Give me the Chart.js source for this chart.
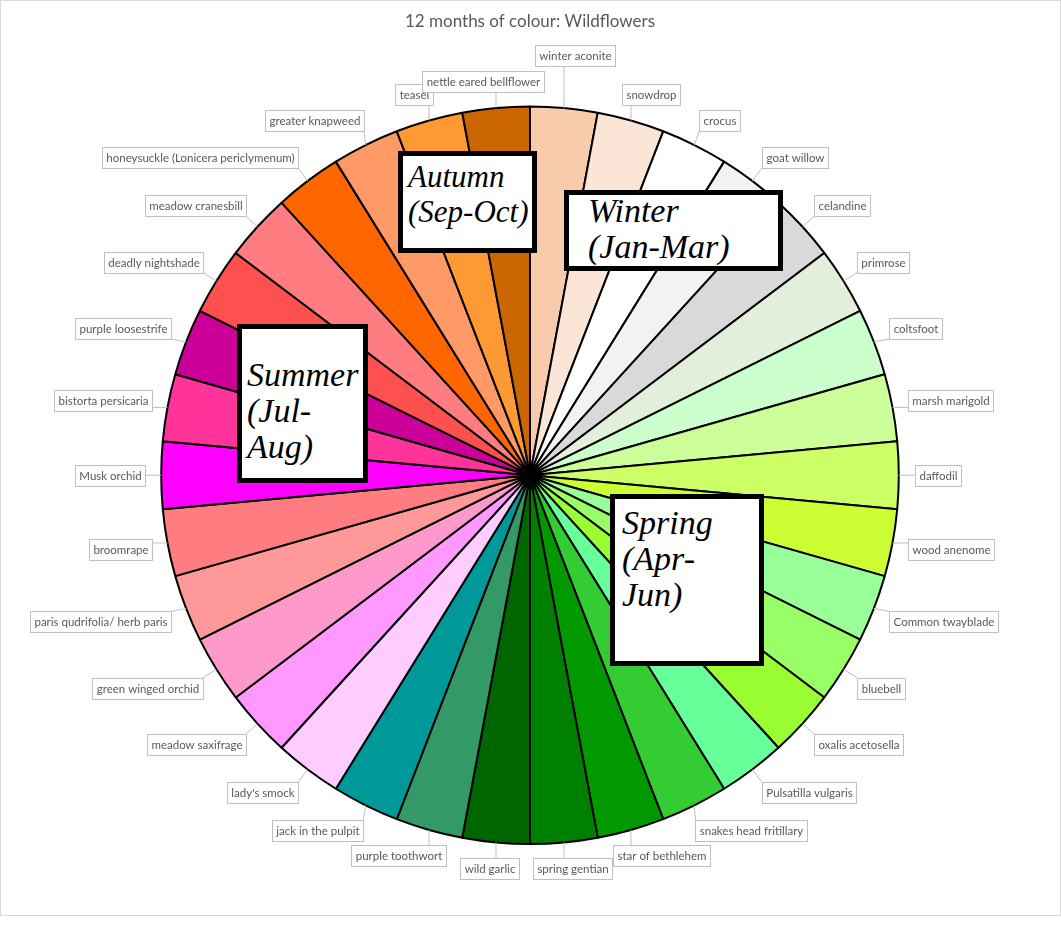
<!DOCTYPE html>
<html>
<head>
<meta charset="utf-8">
<script src="https://cdn.jsdelivr.net/npm/chart.js@4.4.1/dist/chart.umd.min.js"></script>
<style>
  body { margin: 0; background: #fff; }
  #wrap { position: relative; width: 1061px; height: 936px; }
  #frame { position: absolute; left: 0; top: 0; width: 1059px; height: 914px; border: 1px solid #d9d9d9; }
  canvas { position: absolute; left: 0; top: 0; }
  .season {
    position: absolute; box-sizing: border-box; background: #fff; border: 5px solid #000;
    font-family: "Liberation Serif", serif; font-style: italic; font-size: 34px; line-height: 36px; color: #000;
  }
  .season div { position: absolute; white-space: pre; }
  #autumn { left: 398px; top: 151px; width: 139px; height: 102px; font-size: 31px; line-height: 35px; }
  #autumn div { left: 5px; top: 3px; }
  #winter { left: 564px; top: 190px; width: 219px; height: 81px; }
  #winter div { left: 19px; top: -2px; }
  #summer { left: 237px; top: 324px; width: 131px; height: 159px; }
  #summer div { left: 5px; top: 28px; }
  #spring { left: 610px; top: 494px; width: 154px; height: 172px; }
  #spring div { left: 7px; top: 6px; }
</style>
</head>
<body>
<div id="wrap">
  <div id="frame"></div>
  <canvas id="chart" width="1061" height="936"></canvas>
</div>
<script>
// one slice per wildflower, clockwise from the top (January)
const flowers = [
  "winter aconite", "snowdrop", "crocus", "goat willow", "celandine", "primrose",
  "coltsfoot", "marsh marigold", "daffodil", "wood anenome", "Common twayblade", "bluebell",
  "oxalis acetosella", "Pulsatilla vulgaris", "snakes head fritillary", "star of bethlehem",
  "spring gentian", "wild garlic", "purple toothwort", "jack in the pulpit", "lady's smock",
  "meadow saxifrage", "green winged orchid", "paris qudrifolia/ herb paris", "broomrape",
  "Musk orchid", "bistorta persicaria", "purple loosestrife", "deadly nightshade",
  "meadow cranesbill", "honeysuckle (Lonicera periclymenum)", "greater knapweed", "teasel",
  "nettle eared bellflower"
];
const shares = [1, 1, 1, 1, 1, 1, 1, 1, 1, 1, 1, 1, 1, 1, 1, 1, 1,
                1, 1, 1, 1, 1, 1, 1, 1, 1, 1, 1, 1, 1, 1, 1, 1, 1];
const colours = [
  "#f8cbad", "#fbe5d6", "#ffffff", "#f2f2f2", "#d9d9d9", "#e2efda",
  "#ccffcc", "#ccff99", "#ccff66", "#ccff33", "#99ff99", "#99ff66",
  "#99ff33", "#66ff99", "#33cc33", "#009900", "#008000", "#006600",
  "#339966", "#009999", "#ffccff", "#ff99ff", "#ff99cc", "#ff9999",
  "#ff7c80", "#ff00ff", "#ff3399", "#cc0099", "#ff5050", "#ff7c80",
  "#ff6600", "#ff9966", "#ff9933", "#cc6600"
];
const seasonIds = ["autumn", "winter", "summer", "spring"];
const seasonText = ["Autumn\n(Sep-Oct)", "Winter\n(Jan-Mar)", "Summer\n(Jul-\nAug)", "Spring\n(Apr-\nJun)"];

// Excel-style data callouts with leader lines
const callouts = {
  id: "callouts",
  afterDraw(chart) {
    const ctx = chart.ctx;
    const arcs = chart.getDatasetMeta(0).data;
    const clamp = v => Math.max(-1, Math.min(1, v));
    const overlap = (b, p) => [
      Math.min(b.x + b.w, p.x + p.w) - Math.max(b.x, p.x),
      Math.min(b.y + b.h, p.y + p.h) - Math.max(b.y, p.y)
    ];
    ctx.save();
    ctx.font = "11.5px Lato";
    const placed = [];
    const boxes = [];
    arcs.map((a, i) => i).reverse().forEach(i => {
      const a = arcs[i];
      const mid = (a.startAngle + a.endAngle) / 2;
      const dx = Math.cos(mid), dy = Math.sin(mid);
      const w = Math.round(ctx.measureText(flowers[i]).width + 8);
      const h = 21;
      let r = a.outerRadius + 16;
      const at = rr => {
        const cx = a.x + dx * rr + clamp(dx * 2) * w / 2;
        const cy = a.y + dy * rr + clamp(dy * 2) * h / 2;
        return { x: cx - w / 2, y: cy - h / 2, w, h };
      };
      let box = at(r);
      // small corner overlaps are tolerated, real clashes are pushed fully clear
      const clash = placed.some(p => {
        const [ox, oy] = overlap(box, p);
        return ox > -2 && oy > -2 && !(ox < 18 && oy < 11);
      });
      if (clash) {
        for (let k = 0; k < 80; k++) {
          r += 2;
          box = at(r);
          if (!placed.some(p => { const [ox, oy] = overlap(box, p); return ox > -3 && oy > -3; })) break;
        }
      }
      placed.push(box);
      boxes[i] = { box, mid, a };
    });
    boxes.forEach(({ box, mid, a }, i) => {
      const rx = a.x + Math.cos(mid) * a.outerRadius;
      const ry = a.y + Math.sin(mid) * a.outerRadius;
      const px = Math.min(Math.max(rx, box.x), box.x + box.w);
      const py = Math.min(Math.max(ry, box.y), box.y + box.h);
      ctx.strokeStyle = "#bfbfbf";
      ctx.lineWidth = 1;
      ctx.beginPath();
      ctx.moveTo(rx, ry);
      ctx.lineTo(px, py);
      ctx.stroke();
      const bx = Math.round(box.x), by = Math.round(box.y);
      ctx.fillStyle = "#fff";
      ctx.fillRect(bx, by, box.w, box.h);
      ctx.strokeRect(bx + 0.5, by + 0.5, box.w, box.h);
      ctx.fillStyle = "#595959";
      ctx.textAlign = "center";
      ctx.textBaseline = "middle";
      ctx.fillText(flowers[i], bx + box.w / 2 + 0.5, by + box.h / 2 + 1);
    });
    ctx.restore();
  }
};

new Chart(document.getElementById("chart"), {
  type: "pie",
  data: {
    labels: flowers,
    datasets: [{
      data: shares,
      backgroundColor: colours,
      borderColor: "#000",
      borderWidth: 2
    }]
  },
  options: {
    responsive: false,
    animation: false,
    layout: { padding: { left: 160, right: 161, top: 0, bottom: 91 } },
    plugins: {
      legend: { display: false },
      tooltip: { enabled: false },
      title: {
        display: true,
        text: "12 months of colour: Wildflowers",
        color: "#595959",
        font: { family: "Lato", size: 17, weight: "normal" },
        padding: { top: 11, bottom: 74 }
      }
    }
  },
  plugins: [callouts]
});

seasonIds.forEach((id, i) => {
  const d = document.createElement("div");
  d.className = "season";
  d.id = id;
  const t = document.createElement("div");
  t.textContent = seasonText[i];
  d.appendChild(t);
  document.getElementById("wrap").appendChild(d);
});
</script>
</body>
</html>
